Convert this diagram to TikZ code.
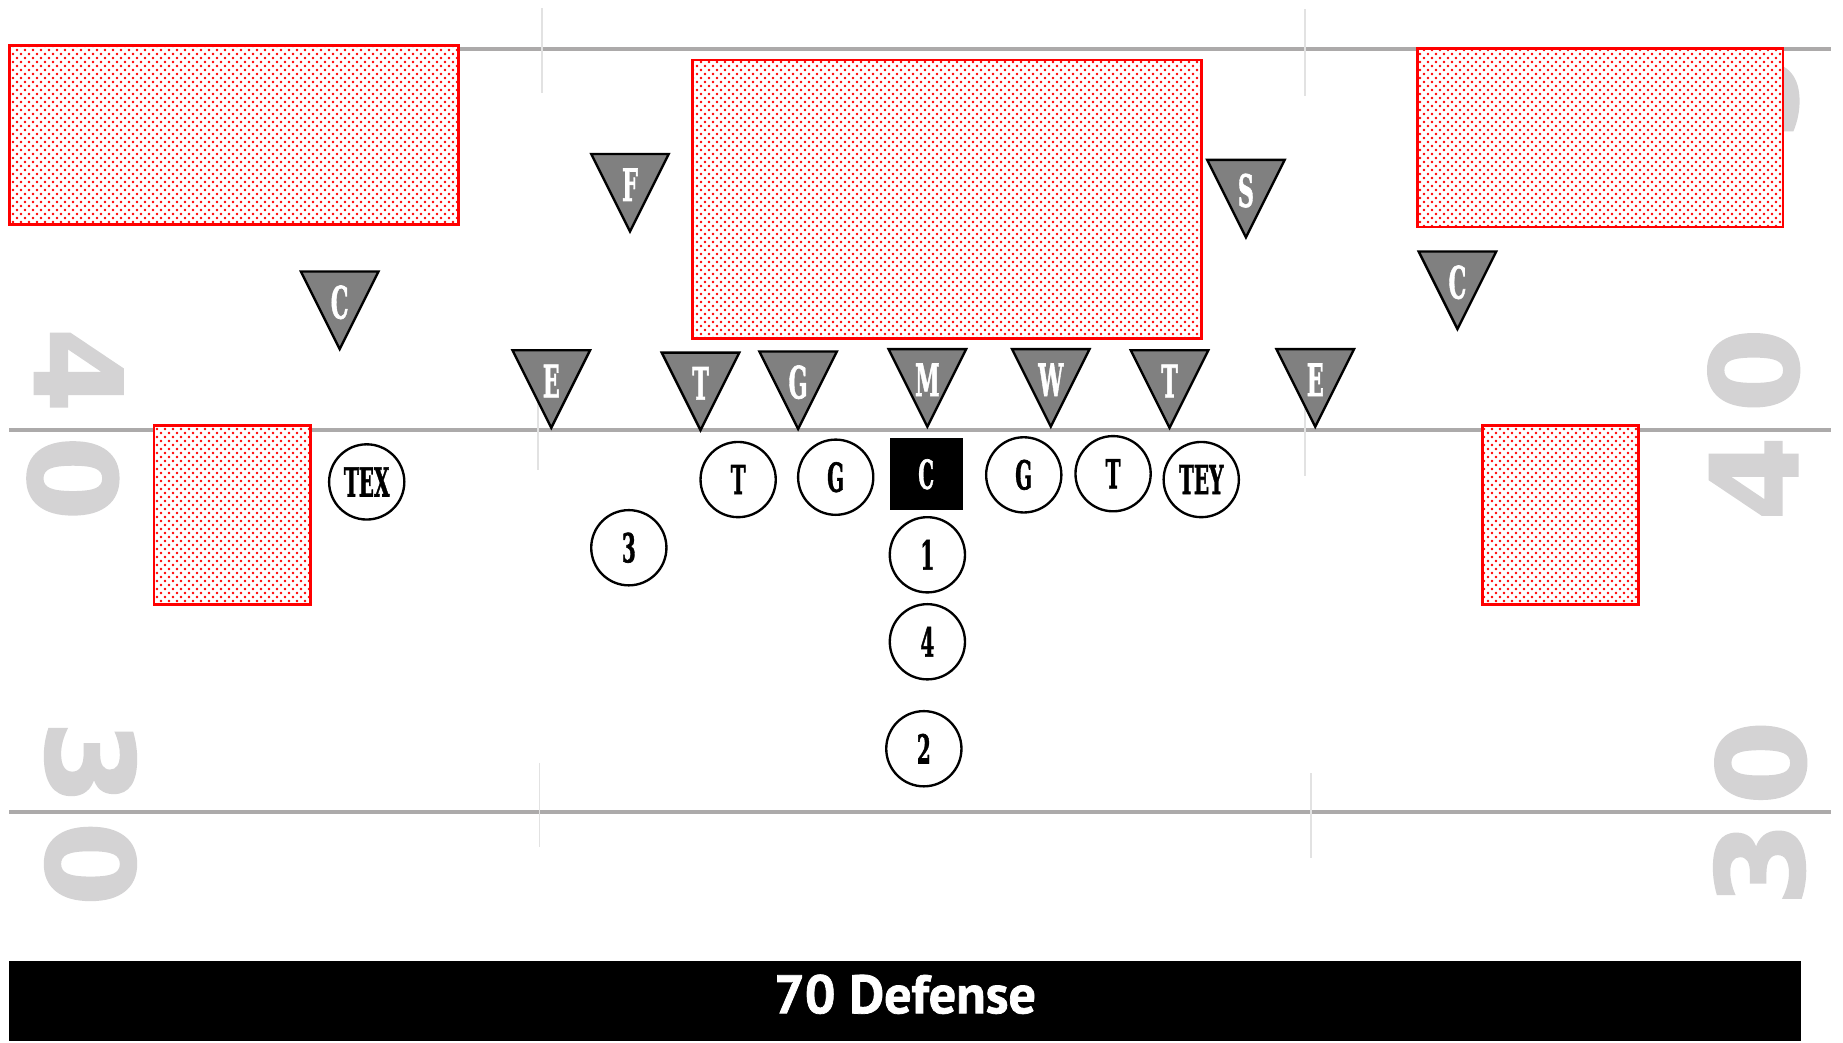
\documentclass[tikz,border=0pt]{standalone}
\usepackage{fontspec}
\usepackage{graphicx}
\usetikzlibrary{patterns.meta}
\newfontfamily\slabfont{DejaVu Serif Bold}[FakeBold=1.6]
\newfontfamily\yardfont{DejaVu Sans Bold}[FakeBold=1.5]
\newfontfamily\titlefont{PT Sans Bold}[FakeBold=1.4]
\definecolor{linegray}{RGB}{172,170,170}
\definecolor{hashgray}{RGB}{226,226,226}
\definecolor{yardgray}{RGB}{212,211,212}
\definecolor{trigray}{RGB}{128,128,128}
\newcommand\cnd[1]{\scalebox{0.5}[1]{#1}}
\tikzdeclarepattern{
  name=reddots,
  type=uncolored,
  bounding box={(0pt,0pt) and (6.8pt,6.8pt)},
  tile size={(6.8pt,6.8pt)},
  code={
    \pgfpathcircle{\pgfqpoint{1.7pt}{1.7pt}}{1.15pt}
    \pgfpathcircle{\pgfqpoint{5.1pt}{5.1pt}}{1.15pt}
    \pgfusepath{fill}
  }
}
\newcommand\deftri[4]{%
  \draw[defender] (#2-33,#3) -- (#2+33,#3) -- (#2,#3+66) -- cycle;
  \node[deflabel] (#1) at (#2,#3+40) {\cnd{#4}};
}
\begin{document}
\begin{tikzpicture}[x=1pt,y=-1pt,
  fieldline/.style={draw=linegray, line width=3.4pt},
  hashmark/.style={draw=hashgray, line width=1.6pt},
  zone/.style={draw=red, line width=2.3pt, preaction={fill=white}, pattern=reddots, pattern color=red},
  defender/.style={draw=black, line width=2pt, fill=trigray, line join=miter},
  deflabel/.style={text=white, font=\slabfont\fontsize{38}{38}\selectfont, inner sep=0pt, anchor=base},
  player/.style={circle, draw=black, line width=2pt, fill=white, minimum size=64pt, inner sep=0pt, font=\slabfont\fontsize{34}{34}\selectfont},
  snapbox/.style={rectangle, fill=black, minimum width=62pt, minimum height=61pt, inner sep=0pt, text=white, font=\slabfont\fontsize{34}{34}\selectfont},
  yardnum/.style={text=yardgray, font=\yardfont\fontsize{103}{103}\selectfont, inner sep=0pt},
]
\useasboundingbox (0,0) rectangle (1568,887);
\fill[white] (0,0) rectangle (1568,887);

% yard lines
\draw[fieldline] (8,42) -- (1558,42);
\draw[fieldline] (8,366) -- (1558,366);
\draw[fieldline] (8,691) -- (1558,691);

% hash marks
\draw[hashmark] (461,7) -- (461,79);
\draw[hashmark] (1110,8) -- (1110,82);
\draw[hashmark] (458,330) -- (458,400);
\draw[hashmark] (1110,333) -- (1110,405);
\draw[hashmark] (459,649) -- (459,721);
\draw[hashmark] (1115,658) -- (1115,730);

% yard numbers
\node[yardnum, rotate=-90] (l4) at (67,315) {4};
\node[yardnum, rotate=-90] (l40) at (62,407) {0};
\node[yardnum, rotate=-90] (l3) at (77,649) {3};
\node[yardnum, rotate=-90] (l30) at (77,735) {0};
\node[yardnum, rotate=90] (r40) at (1492,315) {0};
\node[yardnum, rotate=90] (r4) at (1492,407) {4};
\node[yardnum, rotate=90] (r30) at (1498,649) {0};
\node[yardnum, rotate=90] (r3) at (1497,735) {3};
\node[yardnum, rotate=90] (r5) at (1492,83) {5};

% zones
\draw[zone] (8,39) rectangle (390,191);
\draw[zone] (589,51) rectangle (1022,288);
\draw[zone] (1206,41) rectangle (1517,193);
\draw[zone] (131,362) rectangle (264,514);
\draw[zone] (1261,362) rectangle (1394,514);

% defense
\deftri{fs}{536}{131}{F}
\deftri{ss}{1060}{136}{S}
\deftri{cl}{289}{231}{C}
\deftri{cr}{1240}{214}{C}
\deftri{el}{469}{298}{E}
\deftri{tl}{596}{300}{T}
\deftri{gl}{679}{299}{G}
\deftri{mm}{789}{297}{M}
\deftri{ww}{894}{297}{W}
\deftri{tr}{995}{298}{T}
\deftri{er}{1119}{297}{E}

% offense
\node[player] (tex) at (312,410) {\cnd{TEX}};
\node[player] (ot1) at (628,408) {\cnd{T}};
\node[player] (og1) at (711,406) {\cnd{G}};
\node[snapbox] (oc) at (788,403.5) {\cnd{C}};
\node[player] (og2) at (871,404) {\cnd{G}};
\node[player] (ot2) at (947,403) {\cnd{T}};
\node[player] (tey) at (1022,408) {\cnd{TEY}};
\node[player] (b3) at (535,466) {\cnd{3}};
\node[player] (b1) at (789,472) {\cnd{1}};
\node[player] (b4) at (789,546) {\cnd{4}};
\node[player] (b2) at (786,637) {\cnd{2}};

% title bar
\fill[black] (8,818) rectangle (1532,886);
\node[text=white, font=\titlefont\fontsize{46}{46}\selectfont, inner sep=0pt, anchor=base] (title) at (770,862) {70 Defense};
\end{tikzpicture}
\end{document}
